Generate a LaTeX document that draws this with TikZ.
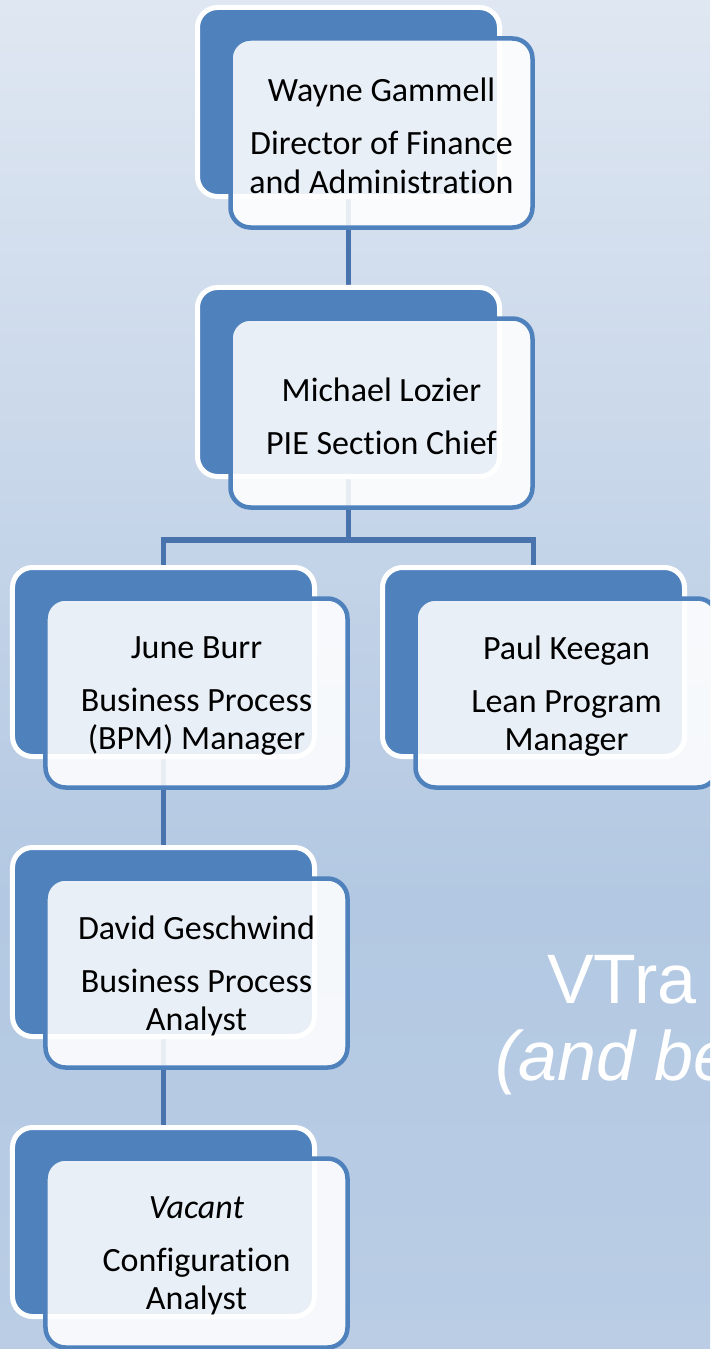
\documentclass[tikz,border=0pt]{standalone}
\usepackage{fontspec}
\setmainfont{Carlito}[Ligatures=NoCommon]
\newfontfamily\titlefont{Liberation Sans}
\usepackage{tikz}
\usetikzlibrary{positioning}
\usetikzlibrary{backgrounds}

\definecolor{boxblue}{HTML}{4F81BD}
\definecolor{lineblue}{HTML}{4873AC}
\definecolor{bgtop}{HTML}{DFE7F2}
\definecolor{bgmid}{HTML}{B3C8E2}
\definecolor{bgbot}{HTML}{BACDE5}

\begin{document}
\begin{tikzpicture}[x=1bp,y=-1bp,
		backbox/.style={draw=white, line width=5bp, fill=boxblue, rounded corners=20bp,
			minimum width=302bp, minimum height=189bp, inner sep=0pt},
		frontbox/.style={draw=boxblue, line width=4.5bp, fill=white, fill opacity=0.88,
			rounded corners=20bp, minimum width=302bp, minimum height=189bp, inner sep=0pt},
		boxtext/.style={align=center, inner sep=0pt, yshift=-3bp,
			font=\fontsize{34bp}{38.5bp}\selectfont},
		orgline/.style={draw=lineblue, line width=5.5bp, line join=miter},
		titletext/.style={text=white, inner sep=0pt, anchor=base west,
			font=\titlefont\fontsize{70bp}{70bp}\selectfont}]
	
	\useasboundingbox (0,0) rectangle (710,1349);
	\clip (0,0) rectangle (710,1349);
	
	\begin{pgfonlayer}{background}
		\shade[top color=bgtop, bottom color=bgmid] (0,0) rectangle (710,900);
		\shade[top color=bgmid, bottom color=bgbot] (0,900) rectangle (710,1349);
	\end{pgfonlayer}
	
	% back boxes
	\node[backbox] (wayneB) at (348.5,102) {};
	\node[backbox] (michaelB) at (348.5,382) {};
	\node[backbox] (juneB) at (163.5,662) {};
	\node[backbox] (paulB) at (533.5,662) {};
	\node[backbox] (davidB) at (163.5,942) {};
	\node[backbox] (vacantB) at (163.5,1222) {};
	
	% front boxes
	\node[frontbox] (wayneF) at (381.5,133) {};
	\node[frontbox] (michaelF) at (381.5,413) {};
	\node[frontbox] (juneF) at (196.5,693) {};
	\node[frontbox] (paulF) at (566.5,693) {};
	\node[frontbox] (davidF) at (196.5,973) {};
	\node[frontbox] (vacantF) at (196.5,1253) {};
	
	\node[boxtext] (wayneT) at (wayneF) {Wayne Gammell\\[14.5bp]Director of Finance\\and Administration};
	\node[boxtext] (michaelT) at (michaelF) {Michael Lozier\\[14.5bp]PIE Section Chief};
	\node[boxtext] (juneT) at (juneF) {June Burr\\[14.5bp]Business Process\\(BPM) Manager};
	\node[boxtext] (paulT) at (paulF) {Paul Keegan\\[14.5bp]Lean Program\\Manager};
	\node[boxtext] (davidT) at (davidF) {David Geschwind\\[14.5bp]Business Process\\Analyst};
	\node[boxtext] (vacantT) at (vacantF) {\itshape Vacant\\[14.5bp]Configuration\\Analyst};
	
	% connectors under the boxes
	\coordinate (bus) at (348.5,540);
	\begin{pgfonlayer}{background}
		\draw[orgline] (wayneB.south) -- (michaelB.north);
		\draw[orgline] (michaelB.south) -- (bus);
		\draw[orgline] (juneB.north) |- (bus) -| (paulB.north);
		\draw[orgline] (juneB.south) -- (davidB.north);
		\draw[orgline] (davidB.south) -- (vacantB.north);
	\end{pgfonlayer}
	
	\node[titletext] (vtra) at (547,1003) {VTra};
	\node[titletext, font=\titlefont\itshape\fontsize{70bp}{70bp}\selectfont] (beyond) at (495,1080) {(and be};
	
\end{tikzpicture}
\end{document}
